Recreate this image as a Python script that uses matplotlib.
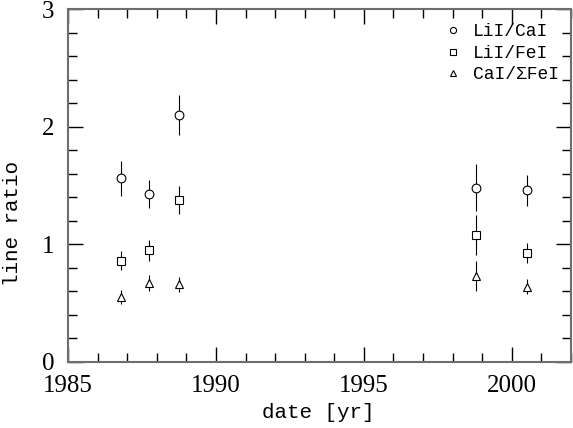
import matplotlib
matplotlib.use("Agg")
import matplotlib.pyplot as plt
from matplotlib.ticker import MultipleLocator

# data
dates = [1986.8, 1987.75, 1988.75, 1998.8, 2000.5]
li_ca = [1.56, 1.43, 2.10, 1.48, 1.46]
li_ca_err = [0.15, 0.12, 0.17, 0.20, 0.13]
li_fe = [0.86, 0.95, 1.38, 1.08, 0.93]
li_fe_err = [0.08, 0.09, 0.12, 0.17, 0.085]
ca_fe = [0.55, 0.67, 0.66, 0.73, 0.64]
ca_fe_err = [0.06, 0.07, 0.065, 0.13, 0.065]
labels = ["LiI/CaI", "LiI/FeI", "CaI/ΣFeI"]
xticks = [1985, 1990, 1995, 2000]
yticks = [0, 1, 2, 3]

FONT = "Liberation Mono"
NUMFONT = "Liberation Serif"

fig = plt.figure(figsize=(5.73, 4.28), dpi=100)
ax = fig.add_axes([68/573, 1-362/428, (571-68)/573, (362-9)/428])

series = [(li_ca, li_ca_err, 'o', 6.3), (li_fe, li_fe_err, 's', 6.0), (ca_fe, ca_fe_err, '^', 6.0)]
handles = []
for (vals, errs, mk, ms), lab in zip(series, labels):
    ax.errorbar(dates, vals, yerr=errs, fmt='none', ecolor='k', elinewidth=0.8, capsize=0, zorder=2)
    h, = ax.plot(dates, vals, linestyle='none', marker=mk, ms=ms, mfc='white', mec='k', mew=0.8,
                 zorder=3, label=lab)
    handles.append(h)

ax.set_xlim(1985, 2002)
ax.set_ylim(0, 3)
ax.set_xticks(xticks)
ax.set_yticks(yticks)
ax.xaxis.set_minor_locator(MultipleLocator(1))
ax.yaxis.set_minor_locator(MultipleLocator(0.2))
ax.tick_params(which='both', direction='in', top=True, right=True, color='k', width=1.0)
ax.tick_params(which='major', length=10.5)
ax.tick_params(which='minor', length=6.5)
ax.tick_params(axis='y', which='major', pad=10)
ax.tick_params(axis='x', which='major', pad=9)
for sp in ax.spines.values():
    sp.set_color('#6e6e6e')
    sp.set_linewidth(1.5)
for t in ax.get_xticklabels() + ax.get_yticklabels():
    t.set_fontfamily(NUMFONT)
    t.set_fontsize(18)

fig.text(13/573, 1-223/428, "line ratio", rotation=90, ha='center', va='center',
         fontfamily=FONT, fontsize=15)
fig.text(318/573, 1-412/428, "date [yr]", ha='center', va='center',
         fontfamily=FONT, fontsize=15)

leg = ax.legend(handles=handles, loc='upper right', bbox_to_anchor=(0.998, 0.99), frameon=False,
                markerscale=0.7, handlelength=0.6, handletextpad=0.8, labelspacing=0.25,
                prop={'family': FONT, 'size': 13}, borderaxespad=0.2)

fig.savefig("out.png", dpi=100)
